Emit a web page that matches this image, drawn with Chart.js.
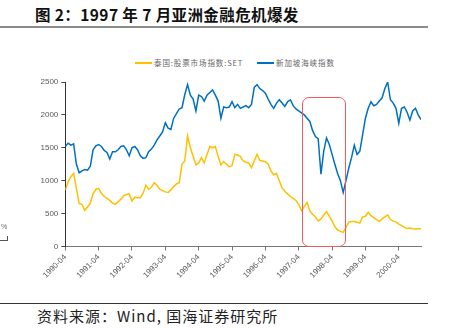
<!DOCTYPE html>
<html>
<head>
<meta charset="utf-8">
<script src="https://cdn.jsdelivr.net/npm/chart.js@4"></script>
<style>
  html, body { margin: 0; padding: 0; background: #fff; }
  body { width: 449px; height: 328px; position: relative; overflow: hidden; }
  #title {
    position: absolute; left: 35px; top: 3px; letter-spacing: 0.4px;
    font: bold 15.5px "Noto Sans CJK SC", sans-serif; color: #111; white-space: nowrap;
  }
  .rule { position: absolute; left: 0; width: 428px; }
  #topRule { top: 26px; height: 2px; background: #8c8c8c; }
  #bottomRule { top: 303px; height: 1px; background: #333; }
  #source {
    position: absolute; left: 37px; top: 305px; letter-spacing: 1px;
    font: 15px "Noto Sans CJK SC", sans-serif; color: #222; white-space: nowrap;
  }
  #chartBox { position: absolute; left: 0; top: 45px; width: 449px; height: 255px; }
  .legend { position: absolute; top: 57px; font: 7.5px "Noto Sans CJK SC", sans-serif; color: #666; white-space: nowrap; }
  .legend i { position: absolute; top: 5px; height: 2px; width: 17px; }
  .legend span { position: absolute; top: 0; letter-spacing: 0.9px; }
  #crisisBox {
    position: absolute; left: 302px; top: 97px; width: 42px; height: 148px;
    border: 1.5px solid #f4595f; border-radius: 7px;
  }
  #pct { position: absolute; left: 1px; top: 223px; font: 7px "Liberation Sans", sans-serif; color: #666; }
  #pctMark { position: absolute; left: 0; top: 236px; width: 7px; height: 4px; border-right: 1px solid #555; border-bottom: 1px solid #555; }
</style>
</head>
<body>
<div id="title">图 2：1997 年 7 月亚洲金融危机爆发</div>
<div class="rule" id="topRule"></div>

<div class="legend" style="left:135px"><i style="left:0;background:#ffc000"></i><span style="left:19px">泰国:股票市场指数:SET</span></div>
<div class="legend" style="left:257px"><i style="left:0;background:#0070c0"></i><span style="left:19px">新加坡海峡指数</span></div>

<div id="chartBox"><canvas id="chart"></canvas></div>
<div id="crisisBox"></div>
<div id="pct">%</div>
<div id="pctMark"></div>

<div class="rule" id="bottomRule"></div>
<div id="source">资料来源：Wind, 国海证券研究所</div>

<script>
// monthly closes starting 1990-04, one row per year (Apr..Mar)
const setIndex = [
  860, 980, 1060, 1110, 880, 650, 640, 550, 600, 660, 800, 870,
  880, 810, 760, 730, 700, 660, 640, 680, 720, 770, 790, 800,
  690, 750, 740, 740, 810, 930, 870, 900, 970, 930, 870, 850,
  830, 820, 860, 910, 950, 970, 1250, 1300, 1680, 1500, 1370, 1240,
  1270, 1350, 1270, 1400, 1520, 1500, 1520, 1370, 1240, 1290, 1250, 1210,
  1230, 1400, 1390, 1370, 1300, 1280, 1270, 1200, 1300, 1400, 1310, 1300,
  1290, 1250, 1150, 1090, 1110, 1000, 890, 840, 800, 760, 730, 700,
  640, 545, 610, 670, 540, 490, 450, 390, 420, 480, 530, 460,
  390, 300, 250, 230, 215, 290, 370, 380, 380, 370, 355, 450,
  460, 520, 470, 440, 410, 380, 420, 450, 480, 410, 385, 370,
  340, 320, 290, 275, 280, 270, 265, 270, 270
];

const straitsIndex = [
  1520, 1570, 1540, 1560, 1250, 1120, 1150, 1170, 1160, 1220, 1470, 1530,
  1550, 1520, 1460, 1430, 1330, 1440, 1440, 1470, 1520, 1530, 1470, 1380,
  1500, 1520, 1470, 1380, 1340, 1350, 1440, 1480, 1540, 1620, 1680, 1740,
  1880, 1800, 1780, 1950, 2020, 2090, 2110, 2310, 2460, 2300, 2240, 2060,
  2300, 2280, 2210, 2300, 2340, 2380, 2300, 2210, 1950, 2120, 2110, 2120,
  2200, 2110, 2160, 2100, 2120, 2140, 2110, 2160, 2420, 2460, 2400, 2370,
  2330, 2240, 2160, 2100, 2180, 2230, 2180, 2130, 2200, 2230, 2140, 2090,
  2060, 2030, 2000, 1950, 1900, 1760, 1670, 1640, 1100, 1450, 1650, 1550,
  1400, 1250, 1110, 1000, 820, 1000, 1190, 1350, 1540, 1400, 1450, 1700,
  1950, 2100, 2200, 2140, 2160, 2210, 2260, 2400, 2500, 2230, 2180, 2100,
  1870, 2100, 2120, 2040, 1920, 2060, 2100, 2000, 1930
];

const tickLabels = ['1990-04', '1991-04', '1992-04', '1993-04', '1994-04', '1995-04',
  '1996-04', '1997-04', '1998-04', '1999-04', '2000-04'];
const yTicks = [0, 500, 1000, 1500, 2000, 2500];

const toPoints = arr => arr.map((v, i) => ({ x: i, y: v }));
const tickFont = { family: '"Liberation Sans", Arial, sans-serif', size: 8 };

new Chart(document.getElementById('chart'), {
  type: 'line',
  data: {
    datasets: [
      { label: '泰国:股票市场指数:SET', data: toPoints(setIndex), borderColor: '#ffc000', borderWidth: 1.5 },
      { label: '新加坡海峡指数', data: toPoints(straitsIndex), borderColor: '#0070c0', borderWidth: 1.5 }
    ]
  },
  options: {
    responsive: true,
    maintainAspectRatio: false,
    animation: false,
    parsing: false,
    elements: { point: { radius: 0 }, line: { tension: 0 } },
    layout: { padding: { top: 37, right: 28, left: 0, bottom: 0 } },
    plugins: { legend: { display: false }, tooltip: { enabled: false } },
    scales: {
      x: {
        type: 'linear',
        min: 0,
        max: setIndex.length - 1,
        afterBuildTicks: axis => {
          axis.ticks = tickLabels.map((_, i) => ({ value: i * 12 }));
        },
        afterFit: axis => { axis.height = 53.5; },
        ticks: {
          autoSkip: false,
          minRotation: 45,
          maxRotation: 45,
          padding: 2,
          color: '#595959',
          font: tickFont,
          callback: v => tickLabels[v / 12]
        },
        grid: { drawOnChartArea: false, drawTicks: true, tickLength: 4, color: '#777' },
        border: { display: true, color: '#777', width: 1 }
      },
      y: {
        min: 0,
        max: 2500,
        afterBuildTicks: axis => {
          axis.ticks = yTicks.map(v => ({ value: v }));
        },
        afterFit: axis => { axis.width = 65.3; },
        ticks: { color: '#595959', font: tickFont, padding: 3, callback: v => String(v) },
        grid: { drawOnChartArea: false, drawTicks: true, tickLength: 4, color: '#444' },
        border: { display: true, color: '#333', width: 1 }
      }
    }
  }
});
</script>
</body>
</html>
